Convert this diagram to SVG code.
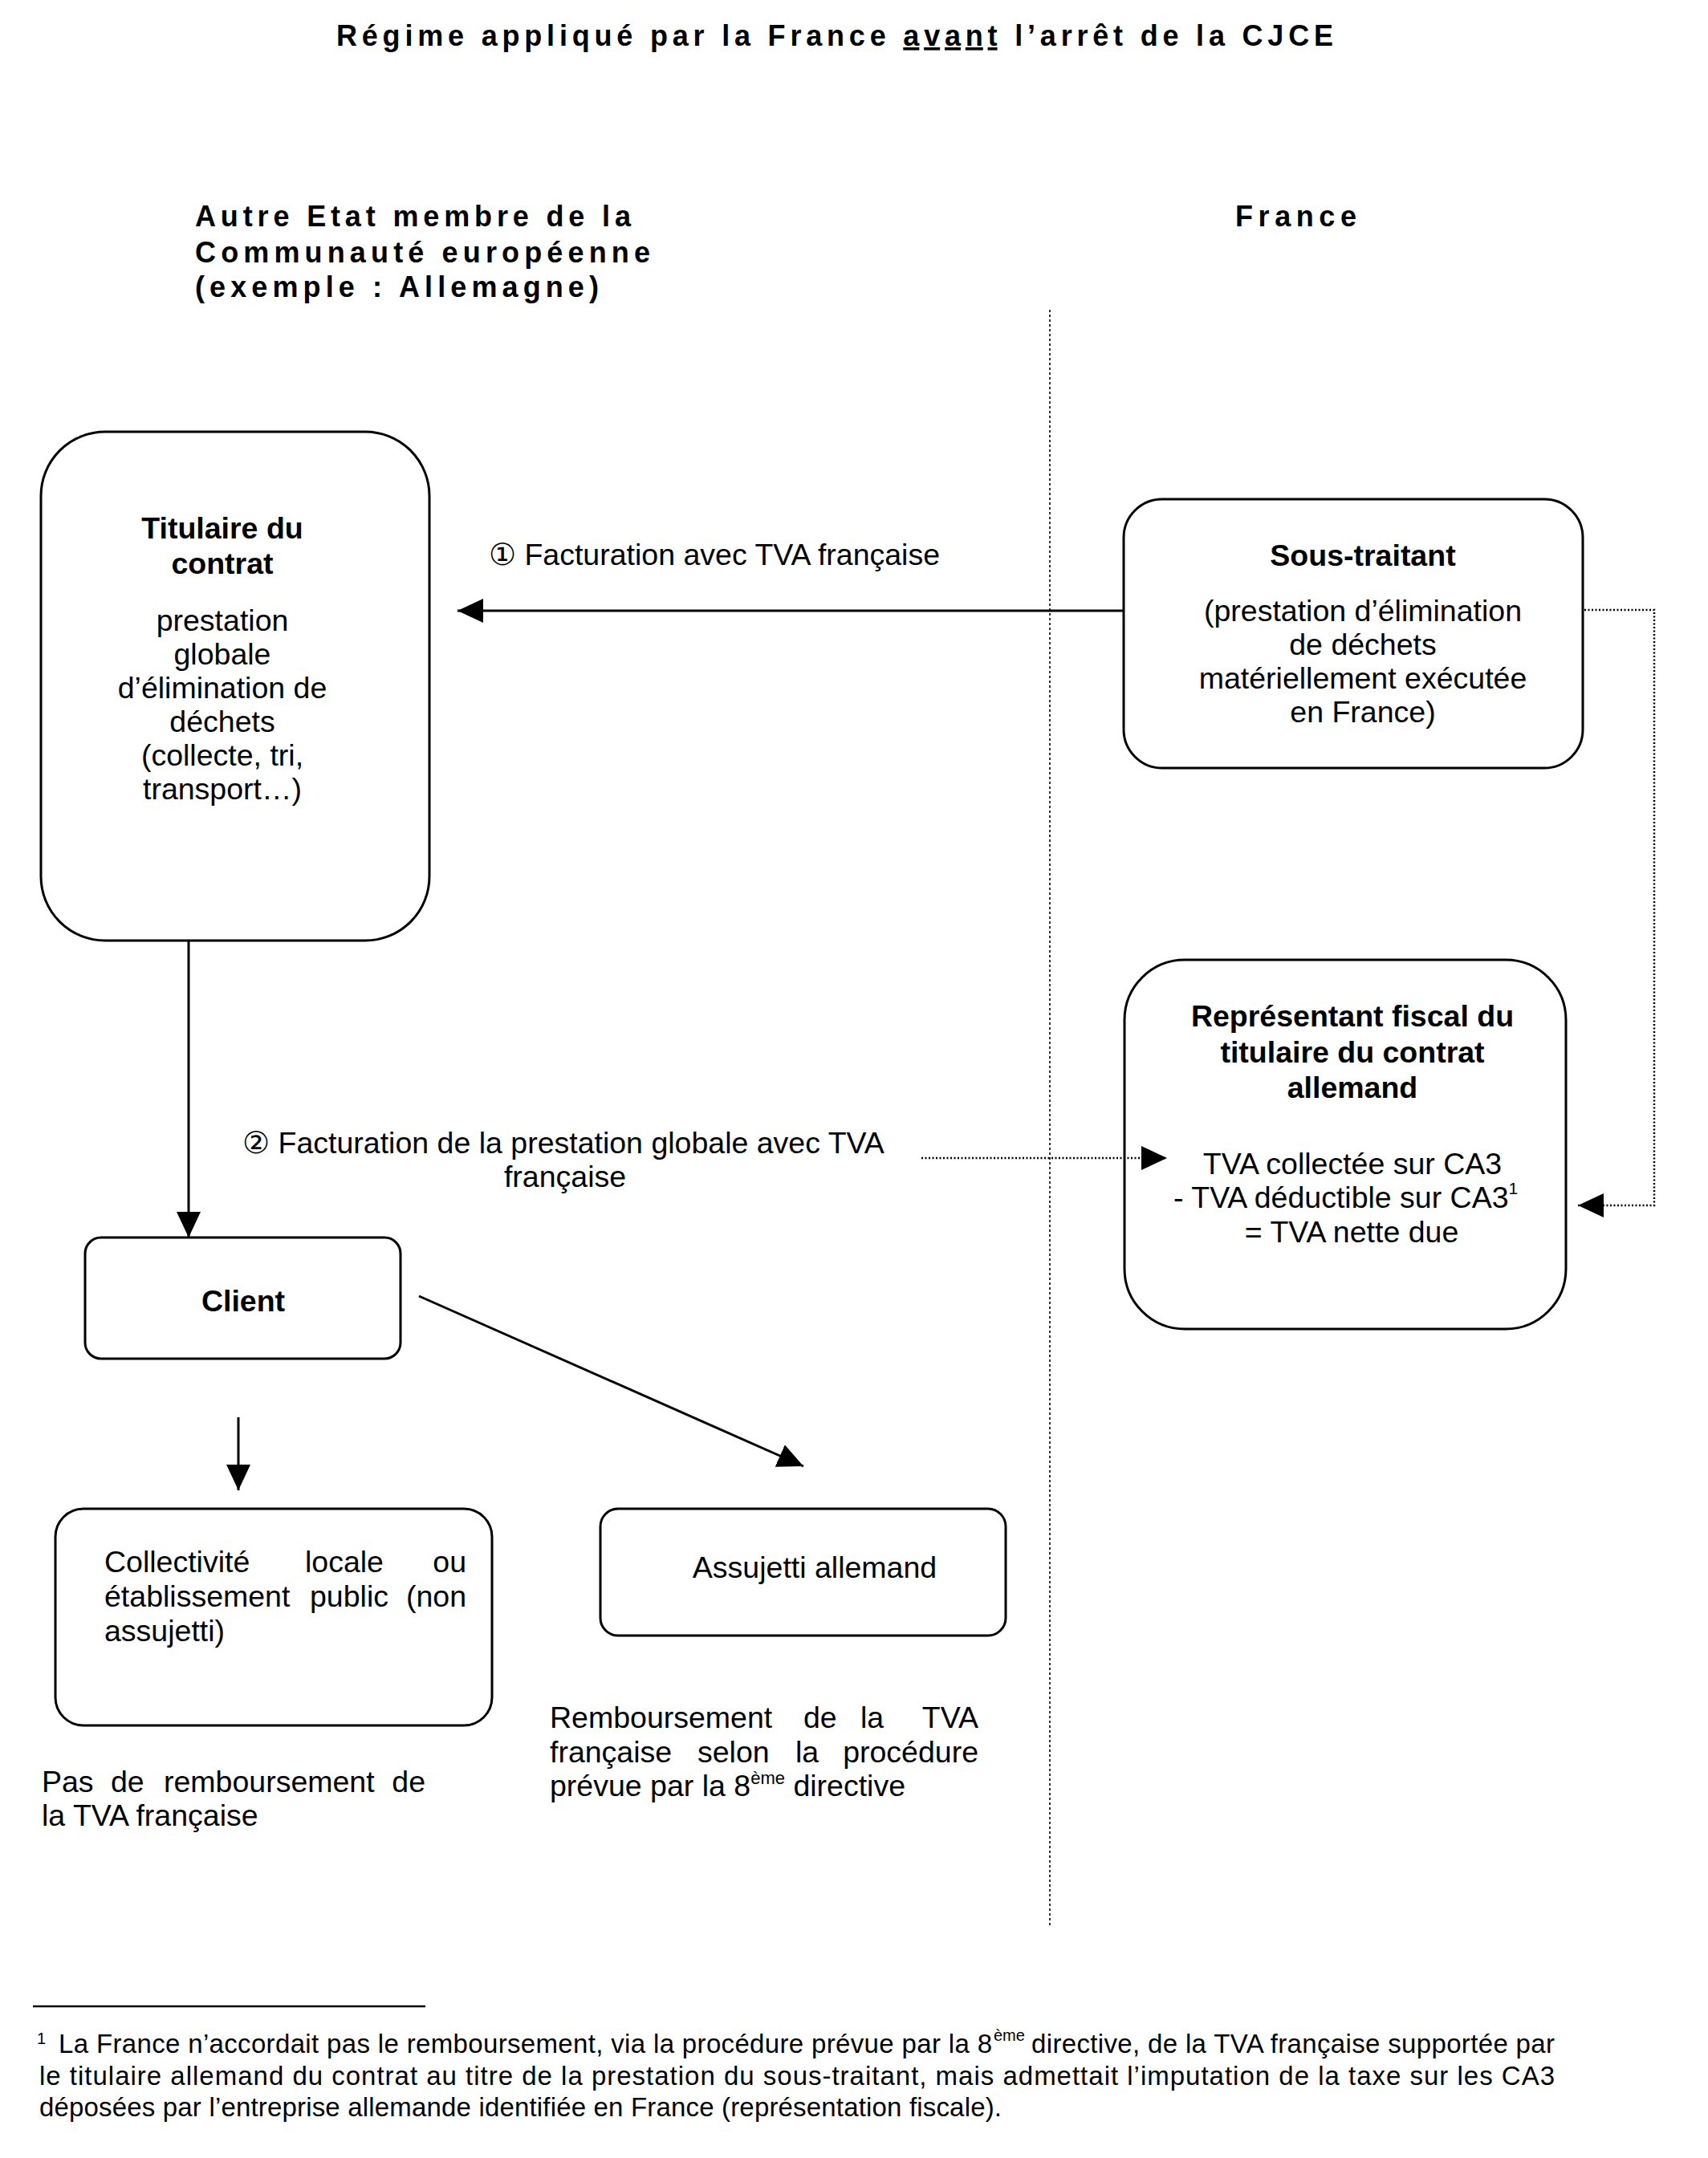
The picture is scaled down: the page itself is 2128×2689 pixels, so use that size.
<svg xmlns="http://www.w3.org/2000/svg" width="2128" height="2689" viewBox="0 0 2128 2689">
<defs>
<style>
text{font-family:"Liberation Sans",Arial,sans-serif;fill:#000}
.t{font-size:37.5px}
.b{font-size:37.5px;font-weight:bold}
.h{font-size:36px;font-weight:bold}
.fn{font-size:33px}
.box{fill:#fff;stroke:#000;stroke-width:3}
.sol{fill:none;stroke:#000;stroke-width:3}
.dot{fill:none;stroke:#000;stroke-width:2.5;stroke-dasharray:2 2.5}
.div{fill:none;stroke:#000;stroke-width:1.6;stroke-dasharray:3 3}
</style>
<marker id="ah" markerUnits="userSpaceOnUse" markerWidth="34" markerHeight="30" refX="32" refY="15" orient="auto">
<path d="M0,0 L32,15 L0,30 Z" fill="#000"/>
</marker>
</defs>
<rect width="2128" height="2689" fill="#fff"/>

<g id="title">
<text class="h" x="419" y="57" textLength="1242" lengthAdjust="spacing">Régime appliqué par la France <tspan text-decoration="underline">avant</tspan> l’arrêt de la CJCE</text>
</g>
<g id="headers">
<text class="h" x="243" y="282" textLength="543" lengthAdjust="spacing">Autre Etat membre de la</text>
<text class="h" x="243" y="327" textLength="567" lengthAdjust="spacing">Communauté européenne</text>
<text class="h" x="243" y="370" textLength="503" lengthAdjust="spacing">(exemple : Allemagne)</text>
<text class="h" x="1539" y="282" textLength="151" lengthAdjust="spacing">France</text>
</g>

<g id="titulaire">
<rect class="box" x="51" y="538" width="484" height="634" rx="80" ry="80"/>
<g text-anchor="middle">
<text class="b" x="277" y="671">Titulaire du</text>
<text class="b" x="277" y="715">contrat</text>
<text class="t" x="277" y="786">prestation</text>
<text class="t" x="277" y="828">globale</text>
<text class="t" x="277" y="870">d’élimination de</text>
<text class="t" x="277" y="912">déchets</text>
<text class="t" x="277" y="954">(collecte, tri,</text>
<text class="t" x="277" y="996">transport…)</text>
</g>
</g>

<g id="sous-traitant">
<rect class="box" x="1400" y="622" width="572" height="335" rx="48" ry="48"/>
<g text-anchor="middle">
<text class="b" x="1698" y="705">Sous-traitant</text>
<text class="t" x="1698" y="774">(prestation d’élimination</text>
<text class="t" x="1698" y="816">de déchets</text>
<text class="t" x="1698" y="858">matériellement exécutée</text>
<text class="t" x="1698" y="900">en France)</text>
</g>
</g>

<g id="representant">
<rect class="box" x="1401" y="1196" width="550" height="460" rx="75" ry="75"/>
<g text-anchor="middle">
<text class="b" x="1685" y="1279">Représentant fiscal du</text>
<text class="b" x="1685" y="1324">titulaire du contrat</text>
<text class="b" x="1685" y="1368">allemand</text>
<text class="t" x="1685" y="1463">TVA collectée sur CA3</text>
<text class="t" x="1684" y="1548">= TVA nette due</text>
</g>
<text class="t" x="1462" y="1505">- TVA déductible sur CA3<tspan font-size="21" dy="-17">1</tspan></text>
</g>

<g id="client">
<rect class="box" x="106" y="1542" width="393" height="151" rx="20" ry="20"/>
<text class="b" x="303" y="1634" text-anchor="middle">Client</text>
</g>

<g id="collectivite">
<rect class="box" x="69" y="1880" width="544" height="270" rx="35" ry="35"/>
<text class="t" x="130" y="1959">Collectivité</text>
<text class="t" x="380" y="1959">locale</text>
<text class="t" x="581" y="1959" text-anchor="end">ou</text>
<text class="t" x="130" y="2002">établissement</text>
<text class="t" x="386" y="2002">public</text>
<text class="t" x="581" y="2002" text-anchor="end">(non</text>
<text class="t" x="130" y="2045">assujetti)</text>
</g>

<g id="assujetti">
<rect class="box" x="748" y="1880" width="505" height="158" rx="22" ry="22"/>
<text class="t" x="1015" y="1966" text-anchor="middle">Assujetti allemand</text>
</g>

<g id="notes">
<text class="t" x="52" y="2233">Pas</text>
<text class="t" x="138" y="2233">de</text>
<text class="t" x="204" y="2233">remboursement</text>
<text class="t" x="530" y="2233" text-anchor="end">de</text>
<text class="t" x="52" y="2275">la TVA française</text>

<text class="t" x="685" y="2153">Remboursement</text>
<text class="t" x="1001" y="2153">de</text>
<text class="t" x="1072" y="2153">la</text>
<text class="t" x="1219" y="2153" text-anchor="end">TVA</text>
<text class="t" x="685" y="2196">française</text>
<text class="t" x="869" y="2196">selon</text>
<text class="t" x="991" y="2196">la</text>
<text class="t" x="1219" y="2196" text-anchor="end">procédure</text>
<text class="t" x="685" y="2238">prévue par la 8<tspan font-size="22" dy="-15">ème</tspan><tspan dy="15"> directive</tspan></text>
</g>

<g id="footnote">
<line x1="41" y1="2500" x2="530" y2="2500" stroke="#000" stroke-width="2.5"/>
<text font-size="20" x="46" y="2547">1</text>
<text class="fn" x="73" y="2558" textLength="1163" lengthAdjust="spacing">La France n’accordait pas le remboursement, via la procédure prévue par la 8</text>
<text font-size="20" x="1238" y="2543">ème</text>
<text class="fn" x="1285" y="2558" textLength="652" lengthAdjust="spacing">directive, de la TVA française supportée par</text>
<text class="fn" x="49" y="2598" textLength="1888" lengthAdjust="spacing">le titulaire allemand du contrat au titre de la prestation du sous-traitant, mais admettait l’imputation de la taxe sur les CA3</text>
<text class="fn" x="49" y="2637" textLength="1199" lengthAdjust="spacing">déposées par l’entreprise allemande identifiée en France (représentation fiscale).</text>
</g>

<g id="connectors">
<line class="div" x1="1308" y1="386" x2="1308" y2="2402"/>
<line class="sol" x1="1400" y1="761" x2="570" y2="761" marker-end="url(#ah)"/>
<line class="sol" x1="235" y1="1172" x2="235" y2="1542" marker-end="url(#ah)"/>
<line class="dot" x1="1148" y1="1443" x2="1454" y2="1443" marker-end="url(#ah)"/>
<path class="dot" d="M1974,760 H2061 V1502 H1966" marker-end="url(#ah)"/>
<line class="sol" x1="297" y1="1766" x2="297" y2="1857" marker-end="url(#ah)"/>
<line class="sol" x1="522" y1="1615" x2="1001" y2="1827" marker-end="url(#ah)"/>
<text class="t" x="609" y="704">① Facturation avec TVA française</text>
<text class="t" x="702" y="1437" text-anchor="middle">② Facturation de la prestation globale avec TVA</text>
<text class="t" x="704" y="1479" text-anchor="middle">française</text>
</g>
</svg>
